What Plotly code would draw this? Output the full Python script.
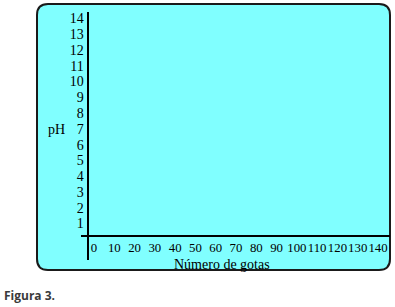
import plotly.graph_objects as go

# ---- data ----
ph_ticks = list(range(1, 15))            # pH 1..14
gotas_ticks = list(range(0, 150, 10))    # 0..140 drops
series_x = []                            # empty template: no data plotted
series_y = []

W, H = 395, 307

def px(x):
    return x / W

def py(y):
    return 1 - y / H

# rounded rectangle frame (decoration)
x0, y0, x1, y1, r = 37, 4, 390, 270, 11
path = (
    f"M {px(x0 + r)},{py(y0)} L {px(x1 - r)},{py(y0)} "
    f"Q {px(x1)},{py(y0)} {px(x1)},{py(y0 + r)} "
    f"L {px(x1)},{py(y1 - r)} Q {px(x1)},{py(y1)} {px(x1 - r)},{py(y1)} "
    f"L {px(x0 + r)},{py(y1)} Q {px(x0)},{py(y1)} {px(x0)},{py(y1 - r)} "
    f"L {px(x0)},{py(y0 + r)} Q {px(x0)},{py(y0)} {px(x0 + r)},{py(y0)} Z"
)

fig = go.Figure(go.Scatter(x=series_x, y=series_y, mode="lines+markers",
                           showlegend=False))

serif = dict(family="Liberation Serif, Times New Roman, serif", size=14, color="black")
serif_x = dict(family="Liberation Serif, Times New Roman, serif", size=12.8, color="black")

# x axis: 0 at ~94px, 140 at ~377px; domain 81..390 px
ux = (378 - 94) / 140
xr = [(81 - 94) / ux, 140 + (390 - 378) / ux]
# y axis: 1 at ~223.5px, 14 at ~18.5px; domain 12..260 px
uy = (223.5 - 18.5) / 13
yr = [1 - (260 - 223.5) / uy, 14 + (18.5 - 12) / uy]

fig.update_layout(
    width=W, height=H,
    margin=dict(l=0, r=0, t=0, b=0),
    paper_bgcolor="white",
    plot_bgcolor="rgba(0,0,0,0)",
    showlegend=False,
    xaxis=dict(
        domain=[px(81), px(390)], anchor="free", position=py(236),
        range=xr, tickvals=gotas_ticks, ticktext=[str(v) for v in gotas_ticks],
        tickangle=0,
        showline=True, linewidth=2, linecolor="black",
        showgrid=False, zeroline=False, ticks="", tickfont=serif_x,
    ),
    yaxis=dict(
        domain=[py(260), py(12)], anchor="free", position=px(87.5),
        range=yr, tickvals=ph_ticks, ticktext=[str(v) for v in ph_ticks],
        showline=True, linewidth=2, linecolor="black",
        showgrid=False, zeroline=False, ticks="", tickfont=serif,
    ),
    shapes=[
        dict(type="path", path=path, xref="paper", yref="paper",
             fillcolor="#80FFFF", line=dict(color="#1a1a1a", width=2),
             layer="below"),
    ],
    annotations=[
        dict(text="pH", x=px(56), y=py(129.5), xref="paper", yref="paper",
             showarrow=False, font=serif, xanchor="center", yanchor="middle"),
        dict(text="Número de gotas", x=px(221.5), y=py(264), xref="paper",
             yref="paper", showarrow=False, font=serif,
             xanchor="center", yanchor="middle"),
        dict(text="<b>Figura 3.</b>", x=px(2), y=py(295), xref="paper",
             yref="paper", showarrow=False,
             font=dict(family="Open Sans, sans-serif", size=12, color="#3a3a3a"),
             xanchor="left", yanchor="middle"),
    ],
)

fig.write_html(
    "out.html",
    config={"displayModeBar": False},
    post_script="document.body.style.margin='0';document.body.style.overflow='hidden';",
)
